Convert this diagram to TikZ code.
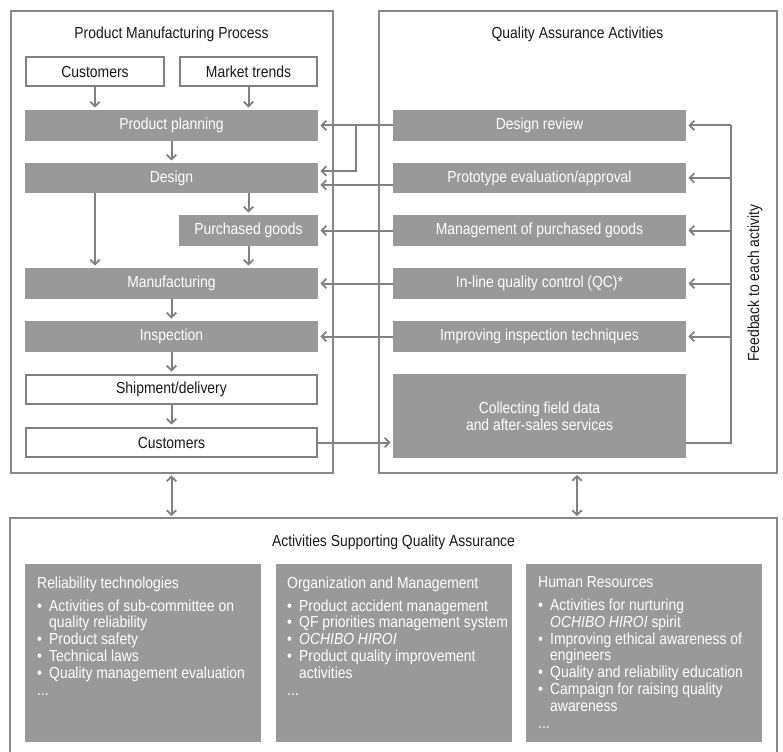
\documentclass[tikz,border=0pt]{standalone}
\usepackage{fontspec}
\setmainfont{Liberation Sans}[FakeStretch=0.87]
\usetikzlibrary{arrows.meta}
\definecolor{boxgray}{RGB}{153,153,153}
\definecolor{linegray}{RGB}{128,128,128}
\definecolor{frameGray}{RGB}{135,135,135}
\definecolor{inkblack}{RGB}{25,25,25}
\newcommand{\bl}{\makebox[12pt][l]{\textbullet}}
\newcommand{\ind}{\hspace*{12pt}}
\begin{document}
\begin{tikzpicture}[x=1pt,y=-1pt,
  font=\fontsize{16}{16.8}\selectfont,
  frame/.style={draw=frameGray,line width=2pt,inner sep=0pt},
  gbox/.style={fill=boxgray,text=white,minimum height=31pt,inner sep=0pt,outer sep=0pt},
  wbox/.style={draw=linegray,line width=2pt,fill=white,text=inkblack,minimum height=29pt,inner sep=0pt},
  conn/.style={draw=linegray,line width=2pt},
  tip/.tip={Straight Barb[length=4.5pt,width=9.5pt,line width=1.8pt]},
  arr/.style={conn,-tip,shorten >=2.5pt},
  darr/.style={conn,tip-tip,shorten >=2pt,shorten <=2pt},
  title/.style={text=inkblack,inner sep=0pt},
  plist/.style={anchor=north west,align=left,inner sep=0pt,text=white}
]
\useasboundingbox (0,0) rectangle (783,751);

% outer frames
\node[frame,minimum width=322pt,minimum height=461pt] (lframe) at (171.5,242) {};
\node[frame,minimum width=398pt,minimum height=461pt] (rframe) at (577.5,242) {};
\coordinate (bl) at (10,760);
\coordinate (btl) at (10,518);
\coordinate (btr) at (777,518);
\coordinate (br) at (777,760);
\draw[frame] (bl) -- (btl) -- (btr) -- (br);

\node[title] (ltitle) at (171.5,34) {Product Manufacturing Process};
\node[title] (rtitle) at (577.5,34) {Quality Assurance Activities};
\node[title] (btitle) at (393.5,542) {Activities Supporting Quality Assurance};

% left column
\node[wbox,minimum width=138.5pt] (cust1) at (95,72) {Customers};
\node[wbox,minimum width=137.5pt] (market) at (248.5,72) {Market trends};
\node[gbox,minimum width=293pt] (pp) at (171.5,125.5) {Product planning};
\node[gbox,minimum width=293pt,minimum height=30pt] (design) at (171.5,178) {Design};
\node[gbox,minimum width=139pt] (purch) at (248.5,230.5) {Purchased goods};
\node[gbox,minimum width=293pt] (manuf) at (171.5,283.5) {Manufacturing};
\node[gbox,minimum width=293pt] (insp) at (171.5,336.5) {Inspection};
\node[wbox,minimum width=291.5pt] (ship) at (171.5,389.5) {Shipment/delivery};
\node[wbox,minimum width=291.5pt] (cust2) at (171.5,442.5) {Customers};

% right column
\node[gbox,minimum width=293pt] (dr) at (539.5,125.5) {Design review};
\node[gbox,minimum width=293pt,minimum height=30pt] (proto) at (539.5,178) {Prototype evaluation/approval};
\node[gbox,minimum width=293pt] (mpg) at (539.5,230.5) {Management of purchased goods};
\node[gbox,minimum width=293pt] (qc) at (539.5,283.5) {In-line quality control (QC)*};
\node[gbox,minimum width=293pt] (imp) at (539.5,336.5) {Improving inspection techniques};
\node[gbox,minimum width=293pt,minimum height=84pt,align=center] (coll) at (539.5,416) {Collecting field data\\and after-sales services};

\node[text=inkblack,rotate=90,inner sep=0pt] (fbtext) at (755,283) {Feedback to each activity};

% left column flow
\draw[arr] (cust1.south) -- (cust1.south |- pp.north);
\draw[arr] (market.south) -- (market.south |- pp.north);
\draw[arr] (pp.south) -- (design.north);
\draw[arr] (design.south -| purch.north) -- (purch.north);
\draw[arr] (design.south -| cust1.south) -- (manuf.north -| cust1.south);
\draw[arr] (purch.south) -- (purch.south |- manuf.north);
\draw[arr] (manuf.south) -- (insp.north);
\draw[arr] (insp.south) -- (ship.north);
\draw[arr] (ship.south) -- (cust2.north);

% QA -> process
\coordinate (brn) at (356,125.5);
\draw[arr] (dr.west) -- (pp.east);
\draw[arr] (brn) |- ([yshift=7pt]design.east);
\draw[arr] ([yshift=-7pt]proto.west) -- ([yshift=-7pt]design.east);
\draw[arr] (mpg.west) -- (purch.east);
\draw[arr] (qc.west) -- (manuf.east);
\draw[arr] (imp.west) -- (insp.east);
\draw[arr] (cust2.east) -- (cust2.east -| coll.west);

% feedback
\coordinate (fb) at (731,0);
\draw[conn] (cust2.east -| coll.east) -- (cust2.east -| fb) -- (fb |- dr.east);
\draw[arr] (fb |- dr.east) -- (dr.east);
\draw[arr] (fb |- proto.east) -- (proto.east);
\draw[arr] (fb |- mpg.east) -- (mpg.east);
\draw[arr] (fb |- qc.east) -- (qc.east);
\draw[arr] (fb |- imp.east) -- (imp.east);

% supporting arrows
\draw[darr] (lframe.south) -- (lframe.south |- btl);
\coordinate (ra) at (577,473);
\draw[darr] (ra) -- (ra |- btl);

% bottom boxes
\node[fill=boxgray,minimum width=236pt,minimum height=178pt,inner sep=0pt] (sb1) at (143,653) {};
\node[fill=boxgray,minimum width=236pt,minimum height=178pt,inner sep=0pt] (sb2) at (394,653) {};
\node[fill=boxgray,minimum width=236pt,minimum height=178pt,inner sep=0pt] (sb3) at (644,653) {};

\node[plist] (t1) at (37,576.5) {Reliability technologies\\[6pt]
\bl Activities of sub-committee on\\
\ind quality reliability\\
\bl Product safety\\
\bl Technical laws\\
\bl Quality management evaluation\\
...};
\node[plist] (t2) at (287,576.5) {Organization and Management\\[6pt]
\bl Product accident management\\
\bl QF priorities management system\\
\bl \textit{OCHIBO HIROI}\\
\bl Product quality improvement\\
\ind activities\\
...};
\node[plist] (t3) at (538,576.5) {Human Resources\\[6pt]
\bl Activities for nurturing\\
\ind \textit{OCHIBO HIROI} spirit\\
\bl Improving ethical awareness of\\
\ind engineers\\
\bl Quality and reliability education\\
\bl Campaign for raising quality\\
\ind awareness\\
...};
\end{tikzpicture}
\end{document}
